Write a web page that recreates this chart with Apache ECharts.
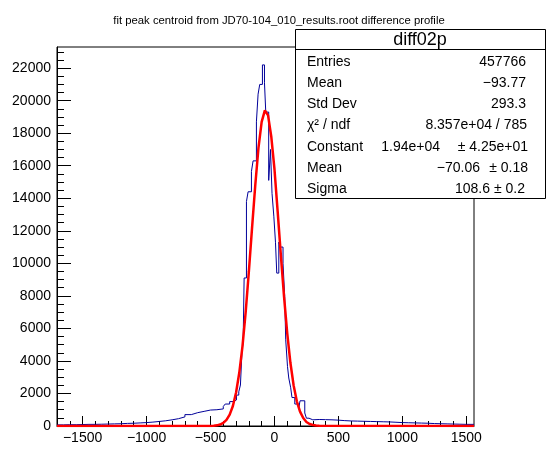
<!DOCTYPE html>
<html>
<head>
<meta charset="utf-8">
<script src="https://cdn.jsdelivr.net/npm/echarts@6/dist/echarts.min.js"></script>
<style>
html, body { margin: 0; padding: 0; background: #fff; }
#main { width: 558px; height: 474px; }
</style>
</head>
<body>
<div id="main"></div>
<script>
// histogram bins: left edge of each bin and its content
var binLow = [
  -1700, -1650, -1600, -1550, -1500, -1450, -1400, -1350, -1300, -1250,
  -1200, -1150, -1100, -1050, -1000, -950, -900, -850, -800, -750,
  -700, -650, -600, -550, -500, -450, -400, -385, -350, -323,
  -297, -279, -266, -253, -245, -237, -219, -206, -180, -167,
  -141, -128, -115, -94, -78, -68, -45, -31, -19, -5,
  8, 18, 34, 47, 67, 80, 88, 102, 112, 127,
  137, 159, 190, 200, 237, 250, 270, 300, 350, 400,
  450, 500, 550, 600, 650, 700, 750, 800, 850, 900,
  950, 1000, 1050, 1100, 1150, 1200, 1250, 1300, 1350, 1400,
  1450, 1500
];
var binCount = [
  70, 80, 80, 90, 100, 100, 110, 120, 130, 140,
  160, 170, 190, 210, 240, 280, 320, 380, 450, 560,
  700, 820, 900, 980, 1000, 1050, 1200, 1350, 1500, 1600,
  1900, 2100, 2520, 4700, 5100, 9100, 13800, 14400, 15650, 16300,
  18700, 20400, 21000, 22200, 21100, 19300, 15100, 17000, 14300, 12900,
  11300, 9400, 11300, 11000, 10000, 8000, 5300, 3650, 2950, 2350,
  1750, 1350, 1100, 1550, 800, 480, 380, 400, 390, 380,
  360, 330, 310, 300, 290, 280, 270, 260, 250, 230,
  210, 200, 190, 180, 170, 150, 140, 130, 120, 110,
  100, 100
];
var histHigh = 1560;

// gaussian fit curve
var fitX = [-1700, -500, -475, -450, -425, -400, -375, -350, -325, -300, -275, -250, -225, -200,
            -175, -150, -125, -100, -75, -50, -25, 0, 25, 50, 75, 100, 125, 150,
            175, 200, 225, 250, 275, 300, 325, 350, 1560];
var fitY = [0, 5, 15, 40, 90, 190, 380, 700, 1230, 2060, 3270, 4900, 7000, 9500,
            12200, 14800, 17100, 18700, 19400, 19100, 17800, 15800, 13200, 10500, 7950, 5700, 3870, 2490,
            1520, 880, 490, 250, 125, 60, 25, 10, 0];

var xMajor = [-1500, -1000, -500, 0, 500, 1000, 1500];
var yMajor = [0, 2000, 4000, 6000, 8000, 10000, 12000, 14000, 16000, 18000, 20000, 22000];
var xMinor = [];
for (var v = -1600; v <= 1500; v += 100) xMinor.push(v);
var yMinor = [];
for (var w = 0; w <= 23000; w += 500) yMinor.push(w);

var statNames = ['Entries', 'Mean', 'Std Dev', '\u03c7\u00b2 / ndf', 'Constant', 'Mean', 'Sigma'];
var statValues = ['457766', '\u221293.77', '293.3', '8.357e+04 / 785', '1.94e+04', '\u221270.06', '108.6'];
var statErrors = ['', '', '', '', '\u00b1 4.25e+01', '\u00b1 0.18', '\u00b1 0.2'];

var histData = binLow.map(function (x, i) { return [x, binCount[i]]; });
histData.push([histHigh, binCount[binCount.length - 1]]);
var fitData = fitX.map(function (x, i) { return [x, fitY[i]]; });

var font = 'Liberation Sans, Arial, Helvetica, sans-serif';
function minus(v) { return String(v).replace('-', '\u2212'); }

// stats box
var box = { x: 295.5, y: 29.5, w: 250, h: 169 };
var graphics = [
  { type: 'rect', z: 100, shape: { x: box.x, y: box.y, width: box.w, height: box.h },
    style: { fill: '#fff', stroke: '#000', lineWidth: 1 } },
  { type: 'line', z: 101, shape: { x1: box.x, y1: 49.5, x2: box.x + box.w, y2: 49.5 },
    style: { stroke: '#000', lineWidth: 1 } },
  { type: 'text', z: 102, x: 420, y: 40,
    style: { text: 'diff02p', font: '18px ' + font, fill: '#000', align: 'center', verticalAlign: 'middle' } }
];
var valueRight = [526, 526, 526, 527, 440, 480, 490];
var errorRight = [0, 0, 0, 0, 528, 528, 525];
statNames.forEach(function (name, i) {
  var cy = 62 + i * 21.2;
  graphics.push({ type: 'text', z: 102, x: 307, y: cy,
    style: { text: name, font: '14px ' + font, fill: '#000', align: 'left', verticalAlign: 'middle' } });
  graphics.push({ type: 'text', z: 102, x: valueRight[i], y: cy,
    style: { text: statValues[i], font: '14px ' + font, fill: '#000', align: 'right', verticalAlign: 'middle' } });
  if (statErrors[i]) {
    graphics.push({ type: 'text', z: 102, x: errorRight[i], y: cy,
      style: { text: statErrors[i], font: '14px ' + font, fill: '#000', align: 'right', verticalAlign: 'middle' } });
  }
});

var chart = echarts.init(document.getElementById('main'));
chart.setOption({
  animation: false,
  backgroundColor: '#fff',
  title: {
    text: 'fit peak centroid from JD70-104_010_results.root difference profile',
    left: 'center', top: 10,
    textStyle: { fontSize: 11.3, fontWeight: 'normal', color: '#000', fontFamily: font }
  },
  grid: { left: 57, right: 84, top: 47, bottom: 48, show: true, borderColor: '#000', borderWidth: 1 },
  xAxis: [
    { type: 'value', min: -1700, max: 1560, position: 'bottom',
      axisLine: { show: true, onZero: false, lineStyle: { color: '#000', width: 1 } },
      axisTick: { inside: true, length: 10, customValues: xMajor, lineStyle: { color: '#000' } },
      axisLabel: { customValues: xMajor, formatter: minus, fontSize: 14, color: '#000', fontFamily: font, margin: 5 },
      splitLine: { show: false } },
    { type: 'value', min: -1700, max: 1560, position: 'bottom',
      axisLine: { show: false, onZero: false },
      axisTick: { inside: true, length: 5, customValues: xMinor, lineStyle: { color: '#000' } },
      axisLabel: { show: false },
      splitLine: { show: false } }
  ],
  yAxis: [
    { type: 'value', min: 0, max: 23300, position: 'left',
      axisLine: { show: true, onZero: false, lineStyle: { color: '#000', width: 1 } },
      axisTick: { inside: true, length: 14, customValues: yMajor, lineStyle: { color: '#000' } },
      axisLabel: { customValues: yMajor, formatter: function (v) { return String(v); },
                   fontSize: 14, color: '#000', fontFamily: font, margin: 6 },
      splitLine: { show: false } },
    { type: 'value', min: 0, max: 23300, position: 'left',
      axisLine: { show: false, onZero: false },
      axisTick: { inside: true, length: 7, customValues: yMinor, lineStyle: { color: '#000' } },
      axisLabel: { show: false },
      splitLine: { show: false } }
  ],
  series: [
    { name: 'diff02p', type: 'line', step: 'end', data: histData, symbol: 'none',
      xAxisIndex: 0, yAxisIndex: 0,
      lineStyle: { color: '#000099', width: 1 } },
    { name: 'gaus', type: 'line', data: fitData, symbol: 'none',
      xAxisIndex: 0, yAxisIndex: 0, z: 3,
      lineStyle: { color: '#ff0000', width: 2.5 } }
  ],
  graphic: graphics
});
</script>
</body>
</html>
